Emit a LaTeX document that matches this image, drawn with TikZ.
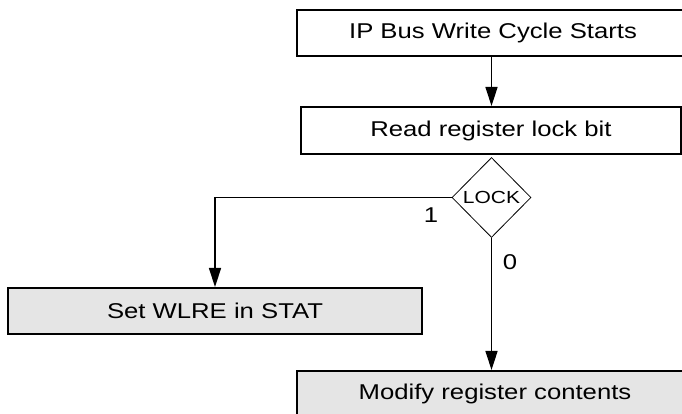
\documentclass[tikz,border=0pt]{standalone}
\usepackage{fontspec}
\setmainfont{Liberation Sans}[FakeStretch=1.2]
\usetikzlibrary{positioning,arrows.meta,shapes.geometric}

\tikzset{
  stepbox/.style={draw,line width=2.1pt,inner sep=0pt,minimum height=46pt,
    font=\fontsize{21.4}{24}\selectfont},
  graybox/.style={stepbox,fill=gray!20},
  decision/.style={diamond,draw,line width=0.8pt,aspect=1,inner sep=0pt,
    minimum width=79pt,minimum height=80pt,font=\fontsize{17.5}{20}\selectfont},
  flow/.style={line width=1.7pt,-{Triangle[length=19pt,width=12pt]}},
  branch/.style={font=\fontsize{21.4}{24}\selectfont}
}

\begin{document}
\begin{tikzpicture}[x=1pt,y=-1pt]
\useasboundingbox (0,0) rectangle (682,414);
\node[stepbox,minimum width=392pt] (start) at (493,33) {IP Bus Write Cycle Starts};
\node[stepbox,minimum width=380pt,minimum height=47pt] (read) at (491,130.5) {Read register lock bit};
\node[decision] (lock) at (491.5,197.5) {LOCK};
\node[graybox,minimum width=414pt] (setw) at (215,311) {Set WLRE in STAT};
\node[graybox,minimum width=396pt] (modify) at (495,394) {Modify register contents};
% connectors
\draw[flow] (start.south -| lock.north) -- (read.north -| lock.north);
\draw[flow] (lock.west) -| (setw.north);
\draw[flow] (lock.south) -- (modify.north -| lock.south);
\node[branch] (one) at (431,215) {1};
\node[branch] (zero) at (510,262) {0};
\end{tikzpicture}
\end{document}
